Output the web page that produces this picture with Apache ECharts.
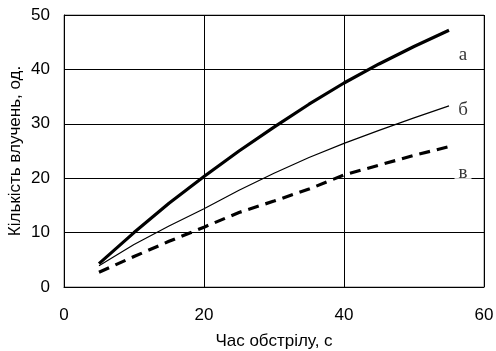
<!DOCTYPE html>
<html><head><meta charset="utf-8">
<script src="https://cdn.jsdelivr.net/npm/echarts@6/dist/echarts.min.js"></script>
<style>html,body{margin:0;padding:0;background:#fff}#c{width:496px;height:351px}</style>
</head><body><div id="c"></div>
<script>
const xValues = [5, 10, 15, 20, 25, 30, 35, 40, 45, 50, 55];
const seriesA = [4.3, 10.0, 15.4, 20.3, 25.0, 29.4, 33.6, 37.5, 41.0, 44.2, 47.2];
const seriesB = [3.9, 7.8, 11.2, 14.4, 17.8, 20.9, 23.8, 26.4, 28.8, 31.1, 33.3];
const seriesV = [2.7, 5.6, 8.4, 11.0, 13.7, 15.8, 18.0, 20.6, 22.4, 24.2, 25.8];
const curveNames = ['а', 'б', 'в'];
const curveLabelX = [57, 57, 57];
const curveLabelY = [42.7, 32.5, 21.0];
const xTicks = [0, 20, 40, 60];
const yTicks = [0, 10, 20, 30, 40, 50];

const pair = arr => xValues.map((x, i) => [x, arr[i]]);
const font = '"Liberation Sans", Arial, sans-serif';
const chart = echarts.init(document.getElementById('c'));
chart.setOption({
  animation: false,
  grid: {left: 64, right: 12, top: 15, bottom: 64, show: true, borderColor: '#808080', borderWidth: 1, backgroundColor: '#fff',
    outerBoundsMode: 'none', containLabel: false},
  xAxis: {
    type: 'value', min: xTicks[0], max: xTicks[xTicks.length - 1], interval: 20,
    name: 'Час обстрілу, с', nameLocation: 'middle', nameGap: 46,
    nameTextStyle: {fontFamily: font, fontSize: 17, color: '#000'},
    axisLine: {show: true, lineStyle: {color: '#000', width: 1}},
    axisTick: {show: false},
    axisLabel: {fontFamily: font, fontSize: 17, color: '#000', margin: 20},
    splitLine: {show: true, lineStyle: {color: '#000', width: 1}}
  },
  yAxis: {
    type: 'value', min: yTicks[0], max: yTicks[yTicks.length - 1], interval: 10,
    name: 'Кількість влучень, од.', nameLocation: 'middle', nameGap: 40, nameMoveOverlap: false,
    nameTextStyle: {fontFamily: font, fontSize: 17, color: '#000'},
    axisLine: {show: true, lineStyle: {color: '#000', width: 1}},
    axisTick: {show: false},
    axisLabel: {fontFamily: font, fontSize: 17, color: '#000', margin: 14},
    splitLine: {show: true, lineStyle: {color: '#000', width: 1}}
  },
  series: [
    {type: 'line', data: pair(seriesA), symbol: 'none', lineStyle: {color: '#000', width: 3.2, join: 'round'}},
    {type: 'line', data: pair(seriesB), symbol: 'none', lineStyle: {color: '#000', width: 1.2, join: 'round'}},
    {type: 'line', data: pair(seriesV), symbol: 'none', lineStyle: {color: '#000', width: 3.2, type: [11, 7]}},
    {type: 'scatter', symbolSize: 0, silent: true,
      data: curveNames.map((n, i) => ({name: n, value: [curveLabelX[i], curveLabelY[i]]})),
      label: {show: true, position: 'inside', formatter: p => p.name,
        fontFamily: '"Liberation Serif", "Times New Roman", serif', fontSize: 19, color: '#000',
        backgroundColor: '#fff', padding: [1, 4]}}
  ]
});
</script></body></html>
